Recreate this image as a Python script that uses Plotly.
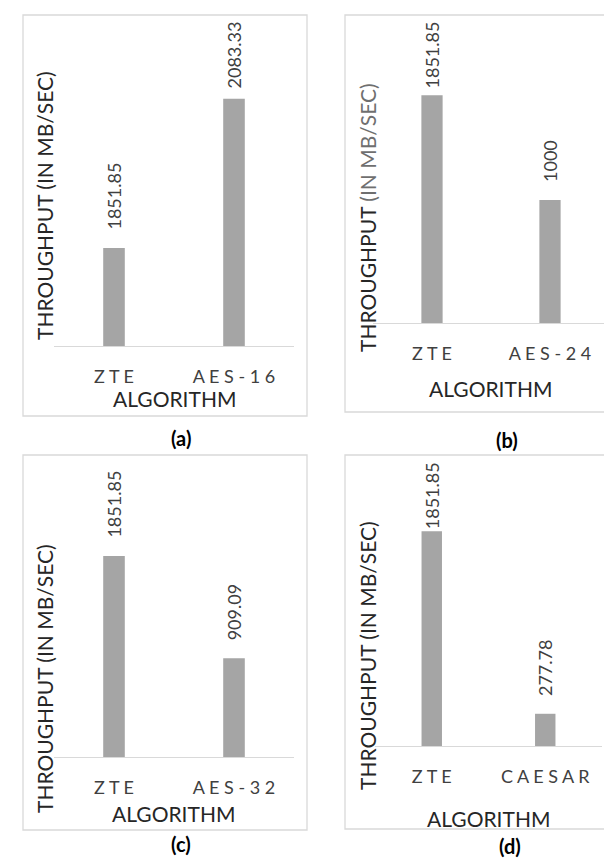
import plotly.graph_objects as go

W, H = 612, 858

# ---------------- data ----------------
categories_a = ["ZTE", "AES-16"]
values_a = [1851.85, 2083.33]
categories_b = ["ZTE", "AES-24"]
values_b = [1851.85, 1000]
categories_c = ["ZTE", "AES-32"]
values_c = [1851.85, 909.09]
categories_d = ["ZTE", "CAESAR"]
values_d = [1851.85, 277.78]

captions = ["(a)", "(b)", "(c)", "(d)"]
x_title = "ALGORITHM"
y_title = "THROUGHPUT (IN MB/SEC)"
y_title_b = "THROUGHPUT <span style='color:#6f6f6f'>(IN MB/SEC)</span>"

# ---------------- layout constants (pixels) ----------------
FONT = "Lato"
BAR_COLOR = "#a5a5a5"
LINE_COLOR = "#d9d9d9"
LABEL_GAP = 18

panels = [
    dict(cats=categories_a, vals=values_a, border=(15, 7, 299, 408), px=(46, 286), py=(80, 338),
         yr=(1700, 2100), ytitle=(36, 198), xtitle=(166, 390), cap=(173, 430), yt=y_title),
    dict(cats=categories_b, vals=values_b, border=(337, 7, 616, 404), px=(365, 601), py=(69, 315),
         yr=(0, 2000), ytitle=(359, 210), xtitle=(482, 380), cap=(499, 432), yt=y_title_b),
    dict(cats=categories_c, vals=values_c, border=(15, 447, 299, 822), px=(46, 286), py=(532, 749),
         yr=(0, 2000), ytitle=(36, 671), xtitle=(165, 805), cap=(173, 836), yt=y_title),
    dict(cats=categories_d, vals=values_d, border=(337, 447, 607, 821), px=(367, 594), py=(506, 738),
         yr=(0, 2000), ytitle=(359, 648), xtitle=(480, 810), cap=(502, 838), yt=y_title),
]


def fx(x):
    return x / W


def fy(y):
    return 1 - y / H


def spaced(s):
    return " ".join(list(s))


def est_len(text, size=18):
    return sum(0.26 if ch == "." else 0.58 for ch in text) * size


fig = go.Figure()
annotations = []
shapes = []
layout_axes = {}

for i, p in enumerate(panels):
    n = "" if i == 0 else str(i + 1)
    xa, ya = "x" + n, "y" + n
    fig.add_trace(go.Bar(
        x=p["cats"], y=p["vals"], xaxis=xa, yaxis=ya,
        marker=dict(color=BAR_COLOR, line=dict(width=0)),
        width=0.18, showlegend=False, hoverinfo="x+y",
    ))
    layout_axes["xaxis" + n] = dict(
        domain=[fx(p["px"][0]), fx(p["px"][1])], anchor=ya,
        type="category", showgrid=False, zeroline=False,
        showline=True, linecolor=LINE_COLOR, linewidth=1.3,
        ticks="", tickvals=p["cats"], ticktext=[spaced(c) for c in p["cats"]],
        tickfont=dict(family=FONT, size=18, color="#404040"),
        ticklabelstandoff=14, fixedrange=True,
    )
    layout_axes["yaxis" + n] = dict(
        domain=[fy(p["py"][1]), fy(p["py"][0])], anchor=xa,
        range=list(p["yr"]), visible=False, fixedrange=True,
    )
    # panel border
    bx0, by0, bx1, by1 = p["border"]
    shapes.append(dict(type="rect", xref="paper", yref="paper",
                       x0=fx(bx0), x1=fx(bx1), y0=fy(by1), y1=fy(by0),
                       line=dict(color=LINE_COLOR, width=1.3), fillcolor="rgba(0,0,0,0)"))
    # data labels
    ymin, ymax = p["yr"]
    top_px, bot_px = p["py"]
    for c, v in zip(p["cats"], p["vals"]):
        txt = f"{v:g}"
        bar_top = bot_px - (v - ymin) / (ymax - ymin) * (bot_px - top_px)
        if bar_top - LABEL_GAP - est_len(txt) < by0 + 6:
            annotations.append(dict(x=c, y=fy(by0 + 5), xref=xa, yref="paper",
                                    text=txt, showarrow=False, textangle=-90,
                                    xanchor="center", yanchor="top",
                                    font=dict(family=FONT, size=18, color="#404040")))
        else:
            annotations.append(dict(x=c, y=v, xref=xa, yref=ya,
                                    text=txt, showarrow=False, textangle=-90,
                                    xanchor="center", yanchor="bottom", yshift=LABEL_GAP - 2,
                                    font=dict(family=FONT, size=18, color="#404040")))
    # y title
    annotations.append(dict(x=fx(p["ytitle"][0]), y=fy(p["ytitle"][1]), xref="paper", yref="paper",
                            text=p["yt"], showarrow=False, textangle=-90,
                            xanchor="center", yanchor="middle",
                            font=dict(family=FONT, size=21, color="#262626")))
    # x title
    annotations.append(dict(x=fx(p["xtitle"][0]), y=fy(p["xtitle"][1]), xref="paper", yref="paper",
                            text=x_title, showarrow=False, xanchor="center", yanchor="middle",
                            font=dict(family=FONT, size=21, color="#262626")))
    # caption
    annotations.append(dict(x=fx(p["cap"][0]), y=fy(p["cap"][1]), xref="paper", yref="paper",
                            text="<b>" + captions[i] + "</b>", showarrow=False,
                            xanchor="center", yanchor="middle", borderpad=0,
                            font=dict(family=FONT, size=20, color="#000000")))

fig.update_layout(
    width=W, height=H, margin=dict(l=0, r=0, t=0, b=0),
    paper_bgcolor="white", plot_bgcolor="white",
    annotations=annotations, shapes=shapes, showlegend=False,
    **layout_axes,
)

fig.write_html("out.html")
